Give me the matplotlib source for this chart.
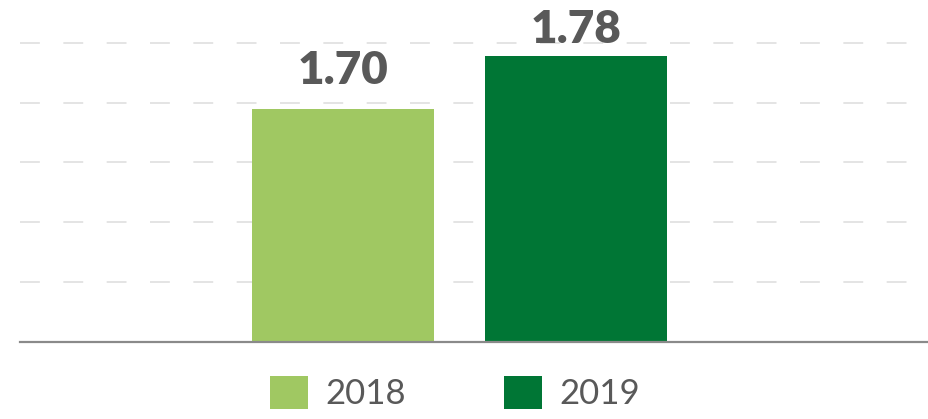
import matplotlib
matplotlib.use("Agg")
import matplotlib.pyplot as plt
from matplotlib.patches import Patch

# data
years = ["2018", "2019"]
values = [1.70, 1.78]
bar_colors = ["#a0c862", "#007635"]
grid_levels = [1.44, 1.53, 1.62, 1.71, 1.80]
label_offsets = [18, 9.5]  # points above bar top

plt.rcParams["font.family"] = ["Lato", "DejaVu Sans"]

fig = plt.figure(figsize=(9.29, 4.19), dpi=100)
ax = fig.add_axes([20 / 929, 76.7 / 419, 909 / 929, 342.3 / 419])

x = list(range(len(years)))
bars = ax.bar(x, values, width=0.781, color=bar_colors, zorder=2)

ax.set_xlim(-1.388, 2.514)
ax.set_ylim(1.35, 1.35 + 342.3 / 666)

# dashed grid
for g in grid_levels:
    ax.axhline(g, color="#e2e2e2", lw=1.3, dashes=(11, 13), zorder=1)

# baseline
ax.axhline(1.35, color="#8a8a8a", lw=1.6, zorder=3, clip_on=False)

for b, v, off in zip(bars, values, label_offsets):
    ax.annotate(f"{v:.2f}", (b.get_x() + b.get_width() / 2, v),
                xytext=(0, off), textcoords="offset points",
                ha="center", va="baseline", fontsize=33, fontweight="heavy",
                color="#595959")

for s in ax.spines.values():
    s.set_visible(False)
ax.set_xticks([])
ax.set_yticks([])

handles = [Patch(facecolor=c, edgecolor="none", label=y) for c, y in zip(bar_colors, years)]
fig.legend(handles=handles, loc="center", bbox_to_anchor=(455 / 929, 1 - 393 / 419),
           ncol=2, frameon=False, fontsize=25, labelcolor="#595959",
           handlelength=1.1, handleheight=1.1, handletextpad=0.5,
           columnspacing=2.8, borderpad=0, borderaxespad=0)

fig.savefig("out.png", dpi=100)
